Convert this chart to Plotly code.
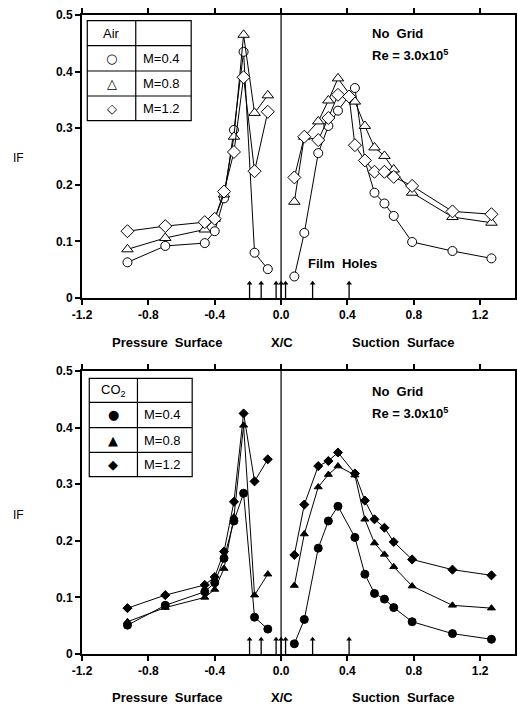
import plotly.graph_objects as go

# ---------------- data ----------------
x_pressure = [-0.926, -0.698, -0.46, -0.40, -0.344, -0.284, -0.226, -0.16, -0.08]
x_suction = [0.08, 0.14, 0.224, 0.285, 0.343, 0.445, 0.505, 0.563, 0.623, 0.679, 0.79, 1.033, 1.268]
x_suction_air_m12 = [0.08, 0.14, 0.224, 0.285, 0.343, 0.41, 0.445, 0.505, 0.563, 0.623, 0.679, 0.79, 1.033, 1.268]

air_m04_p = [0.063, 0.092, 0.097, 0.118, 0.176, 0.297, 0.435, 0.080, 0.051]
air_m08_p = [0.086, 0.106, 0.121, 0.140, 0.183, 0.285, 0.465, 0.327, 0.358]
air_m12_p = [0.118, 0.127, 0.134, 0.140, 0.188, 0.258, 0.390, 0.224, 0.329]
air_m04_s = [0.038, 0.115, 0.256, 0.304, 0.331, 0.371, 0.243, 0.186, 0.167, 0.145, 0.099, 0.083, 0.070]
air_m08_s = [0.170, 0.285, 0.312, 0.349, 0.388, 0.347, 0.304, 0.266, 0.251, 0.227, 0.186, 0.143, 0.133]
air_m12_s = [0.213, 0.285, 0.279, 0.318, 0.359, 0.356, 0.270, 0.243, 0.223, 0.223, 0.214, 0.198, 0.153, 0.148]

co2_m04_p = [0.051, 0.086, 0.110, 0.126, 0.169, 0.235, 0.284, 0.065, 0.044]
co2_m08_p = [0.057, 0.082, 0.100, 0.114, 0.151, 0.242, 0.404, 0.104, 0.141]
co2_m12_p = [0.081, 0.104, 0.122, 0.136, 0.181, 0.269, 0.425, 0.305, 0.344]
co2_m04_s = [0.018, 0.061, 0.187, 0.235, 0.261, 0.206, 0.141, 0.107, 0.097, 0.082, 0.057, 0.036, 0.026]
co2_m08_s = [0.121, 0.212, 0.295, 0.317, 0.332, 0.316, 0.238, 0.196, 0.176, 0.154, 0.120, 0.086, 0.081]
co2_m12_s = [0.175, 0.264, 0.332, 0.341, 0.356, 0.319, 0.271, 0.238, 0.223, 0.198, 0.167, 0.149, 0.139]

film_holes = [-0.19, -0.12, -0.03, 0.0, 0.027, 0.19, 0.41]
arrow_len = 0.026

x_tickvals = [-1.2, -0.8, -0.4, 0.0, 0.4, 0.8, 1.2]
x_ticktext = ["-1.2", "-0.8", "-0.4", "0.0", "0.4", "0.8", "1.2"]
y_tickvals = [0, 0.1, 0.2, 0.3, 0.4, 0.5]
y_ticktext = ["0", "0.1", "0.2", "0.3", "0.4", "0.5"]

legend_labels = ["M=0.4", "M=0.8", "M=1.2"]

# ---------------- figure ----------------
W, H = 518, 704
ML, MR, MT, MB = 82, 1, 15, 50
PW, PH = W - ML - MR, H - MT - MB


def px(xp):
    return (xp - ML) / PW


def py(yp):
    return (H - MB - yp) / PH


fig = go.Figure()

FONT = "Liberation Sans, Arial, sans-serif"


def add_series(xv, yv, xa, ya, symbol, size, filled):
    fig.add_trace(go.Scatter(
        x=xv, y=yv, xaxis=xa, yaxis=ya, mode="lines+markers",
        line=dict(color="black", width=1),
        marker=dict(symbol=symbol, size=size,
                    color="black" if filled else "white",
                    line=dict(color="black", width=1)),
        showlegend=False, cliponaxis=False))


def add_arrows(xa, ya):
    sx, sy = [], []
    for h in film_holes:
        sx += [h, h, None]
        sy += [0, arrow_len, None]
    fig.add_trace(go.Scatter(x=sx, y=sy, xaxis=xa, yaxis=ya, mode="lines",
                             line=dict(color="black", width=1.3),
                             showlegend=False, hoverinfo="skip"))
    fig.add_trace(go.Scatter(x=film_holes, y=[arrow_len] * len(film_holes),
                             xaxis=xa, yaxis=ya, mode="markers",
                             marker=dict(symbol="triangle-up", size=5, color="black"),
                             showlegend=False, hoverinfo="skip"))


# top: air (open markers)
add_arrows("x", "y")
add_series(x_pressure, air_m04_p, "x", "y", "circle", 9, False)
add_series(x_suction, air_m04_s, "x", "y", "circle", 9, False)
add_series(x_pressure, air_m08_p, "x", "y", "triangle-up", 10, False)
add_series(x_suction, air_m08_s, "x", "y", "triangle-up", 10, False)
add_series(x_pressure, air_m12_p, "x", "y", "diamond", 10, False)
add_series(x_suction_air_m12, air_m12_s, "x", "y", "diamond", 10, False)

# bottom: CO2 (filled markers)
add_arrows("x2", "y2")
add_series(x_pressure, co2_m04_p, "x2", "y2", "circle", 8, True)
add_series(x_suction, co2_m04_s, "x2", "y2", "circle", 8, True)
add_series(x_pressure, co2_m08_p, "x2", "y2", "triangle-up", 7, True)
add_series(x_suction, co2_m08_s, "x2", "y2", "triangle-up", 7, True)
add_series(x_pressure, co2_m12_p, "x2", "y2", "diamond", 7, True)
add_series(x_suction, co2_m12_s, "x2", "y2", "diamond", 7, True)

top_dom = [py(298), 1.0]
bot_dom = [0.0, py(371)]

xcommon = dict(range=[-1.2, 1.41], tickvals=x_tickvals, ticktext=x_ticktext,
               showline=True, linecolor="black", linewidth=2, mirror="ticks",
               ticks="outside", ticklen=5, tickwidth=1.5, tickcolor="black",
               showgrid=False, zeroline=False,
               tickfont=dict(family=FONT, size=12, color="black", weight="bold"))
ycommon = dict(range=[0, 0.5], tickvals=y_tickvals, ticktext=y_ticktext,
               showline=True, linecolor="black", linewidth=2, mirror=True,
               ticks="outside", ticklen=5, tickwidth=1.5, tickcolor="black",
               showgrid=False, zeroline=False,
               tickfont=dict(family=FONT, size=12, color="black", weight="bold"))

fig.update_layout(
    width=W, height=H,
    margin=dict(l=ML, r=MR, t=MT, b=MB),
    paper_bgcolor="white", plot_bgcolor="white",
    xaxis=dict(domain=[0, 1], anchor="y", **xcommon),
    yaxis=dict(domain=top_dom, anchor="x", **ycommon),
    xaxis2=dict(domain=[0, 1], anchor="y2", **xcommon),
    yaxis2=dict(domain=bot_dom, anchor="x2", **ycommon),
)

shapes = []
annotations = []


def note(xp_, yp_, text, font, xanchor="center"):
    annotations.append(dict(x=px(xp_), y=py(yp_), xref="paper", yref="paper",
                            xanchor=xanchor, yanchor="middle", text=text,
                            showarrow=False, font=font))


# vertical line at x=0
for xr, yr in (("x", "y"), ("x2", "y2")):
    shapes.append(dict(type="line", xref=xr, yref=yr, x0=0, x1=0, y0=0, y1=0.5,
                       line=dict(color="black", width=1.2), layer="below"))

legend_font = dict(family=FONT, size=13, color="black")
sym_font = dict(family="DejaVu Sans", size=13, color="black")


def legend_table(left, right, top, bottom, colx, rows, title, symbols):
    shapes.append(dict(type="rect", xref="paper", yref="paper",
                       x0=px(left), x1=px(right), y0=py(bottom), y1=py(top),
                       line=dict(color="black", width=1.2), fillcolor="white"))
    shapes.append(dict(type="line", xref="paper", yref="paper",
                       x0=px(colx), x1=px(colx), y0=py(bottom), y1=py(top),
                       line=dict(color="black", width=1.2)))
    for r in rows:
        shapes.append(dict(type="line", xref="paper", yref="paper",
                           x0=px(left), x1=px(right), y0=py(r), y1=py(r),
                           line=dict(color="black", width=1.2)))
    edges = [top] + rows + [bottom]
    cx = (left + colx) / 2
    note(cx, (edges[0] + edges[1]) / 2, title, legend_font)
    for i in range(3):
        yc = (edges[i + 1] + edges[i + 2]) / 2
        note(cx, yc, symbols[i], sym_font)
        note(colx + 5, yc, legend_labels[i], legend_font, xanchor="left")


legend_table(87.3, 191.7, 20.7, 120.7, 136, [45.7, 71, 96], "Air", ["○", "△", "◇"])
legend_table(89.3, 192.7, 378.3, 476.7, 137.7, [402.3, 427.7, 452.3], "CO<sub>2</sub>", ["●", "▲", "◆"])

bold = dict(family=FONT, size=13, color="black", weight="bold")

for yoff in (0, 358.3):
    note(371.7, 33.3 + yoff, "No  Grid", bold, xanchor="left")
    note(371.7, 54.5 + yoff, "Re = 3.0x10<sup>5</sup>", bold, xanchor="left")

note(306.7, 263.3, "Film  Holes", bold, xanchor="left")

for ylab, ytitle in ((158, 342), (515, 697)):
    note(18, ylab, "IF", dict(family=FONT, size=12, color="black"))
    note(168, ytitle, "Pressure  Surface", bold)
    note(283, ytitle, "X/C", bold)
    note(405, ytitle, "Suction  Surface", bold)

fig.update_layout(shapes=shapes, annotations=annotations)

fig.write_html("out.html")
